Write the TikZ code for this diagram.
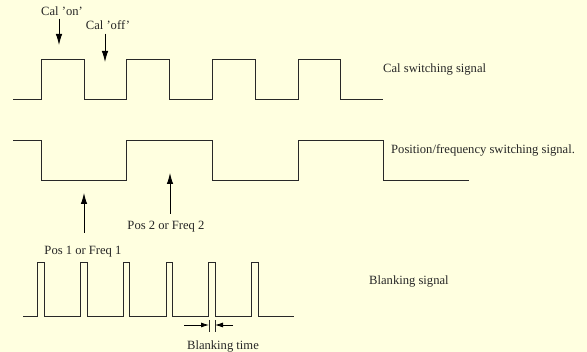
\documentclass[tikz,border=0pt]{standalone}
\usepackage{fontspec}
\setmainfont{Liberation Serif}
\usetikzlibrary{arrows.meta}
\definecolor{bgyellow}{RGB}{255,255,224}
\definecolor{sigline}{RGB}{40,40,40}
\tikzset{
  sig/.style={draw=sigline, line width=0.9pt, line join=miter},
  lbl/.style={font=\fontsize{12.6}{14}\selectfont, text=black!85, inner sep=0pt},
  bigarrow/.style={draw=black, line width=0.9pt, -{Latex[length=11pt,width=6.5pt]}},
  smallarrow/.style={draw=black, line width=0.8pt, -{Latex[length=8pt,width=5pt]}},
}
\begin{document}
\begin{tikzpicture}[x=1pt,y=-1pt]
\fill[bgyellow] (0,0) rectangle (587,352);
\useasboundingbox (0,0) rectangle (587,352);

% Cal switching signal
\draw[sig] (13,99) -- (41,99) -- (41,59) -- (84,59) -- (84,99) -- (126,99) -- (126,59)
  -- (169,59) -- (169,99) -- (212,99) -- (212,59) -- (255,59) -- (255,99) -- (298,99)
  -- (298,59) -- (340,59) -- (340,99) -- (383,99);
\node[lbl, anchor=west] (calsig) at (383,69) {Cal switching signal};

% Cal on / off labels
\node[lbl] (calon) at (62,11) {Cal 'on'};
\node[lbl] (caloff) at (108,25) {Cal 'off'};
\coordinate (calontip) at (59,45);
\coordinate (calofftip) at (105,62);
\draw[bigarrow] (calon.south -| calontip) ++(0,3) -- (calontip);
\draw[bigarrow] (caloff.south -| calofftip) ++(0,4) -- (calofftip);

% Position / frequency switching signal
\draw[sig] (13,140) -- (41,140) -- (41,180) -- (126,180) -- (126,140) -- (212,140)
  -- (212,180) -- (298,180) -- (298,140) -- (383,140) -- (383,180) -- (469,180);
\node[lbl, anchor=west] (possig) at (391,150) {Position/frequency switching signal.};

% Pos labels
\node[lbl] (pos2) at (166,227) {Pos 2 or Freq 2};
\node[lbl] (pos1) at (83,252) {Pos 1 or Freq 1};
\coordinate (pos1tail) at (84,233);
\coordinate (pos1tip) at (84,193);
\coordinate (pos2tail) at (170,214);
\coordinate (pos2tip) at (170,173);
\draw[bigarrow] (pos1tail) -- (pos1tip);
\draw[bigarrow] (pos2tail) -- (pos2tip);

% Blanking signal
\draw[sig] (23,316) foreach \i in {0,...,5} {
    -- ({37.7+42.8*\i},316) -- ++(0,-54) -- ++(6.5,0) -- ++(0,54) } -- (294,316);
\node[lbl, anchor=west] (blanksig) at (369,281) {Blanking signal};

% Blanking time marker
\coordinate (bl) at (209,325);
\coordinate (br) at (215,325);
\coordinate (blt) at (184,325);
\coordinate (brt) at (233,325);
\draw[sig, line width=0.6pt] (209,320) -- (209,332);
\draw[sig, line width=0.6pt] (215,320) -- (215,332);
\draw[smallarrow] (blt) -- (bl);
\draw[smallarrow] (brt) -- (br);
\node[lbl] (blanktime) at (223,346) {Blanking time};
\end{tikzpicture}
\end{document}
